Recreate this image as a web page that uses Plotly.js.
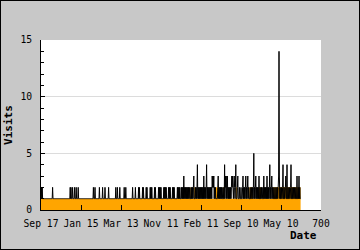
<!DOCTYPE html>
<html>
<head>
<meta charset="utf-8">
<script src="https://cdn.plot.ly/plotly-3.0.1.min.js"></script>
<style>
  html, body { margin: 0; padding: 0; background: #c8c8c8; }
  #wrap { position: relative; width: 360px; height: 250px; }
  #chart { width: 360px; height: 250px; }
  #frame { position: absolute; left: 0; top: 0; width: 360px; height: 250px; box-sizing: border-box; border: 1px solid #000; pointer-events: none; }
</style>
</head>
<body>
<div id="wrap"><div id="chart"></div><div id="frame"></div></div>
<script>
// Daily visits (black line), one value per day index
const visits = [
  1,2,1,2,1,1,1,1,1,1, 1,1,1,1,1,1,1,1,1,1, 1,1,1,1,1,1,1,1,1,2, 1,1,1,1,1,1,1,1,1,1, 1,1,1,1,1,1,1,1,1,1,
  1,1,1,1,1,1,1,1,1,1, 1,1,1,1,1,1,1,1,1,1, 1,1,1,2,1,2,1,1,1,2, 1,1,1,1,2,1,1,1,2,1, 1,1,1,2,1,1,1,1,1,1,
  1,1,1,1,1,1,1,1,1,1, 1,1,1,1,1,1,1,1,1,1, 1,1,1,1,1,1,1,1,1,1, 1,2,1,1,1,2,1,1,1,1, 1,1,1,1,1,1,2,1,1,1,
  1,1,1,1,2,1,1,1,1,1, 2,1,1,1,1,1,1,1,1,2, 1,1,1,1,1,1,1,1,1,1, 1,1,1,1,1,1,1,2,1,1, 1,2,1,1,1,1,1,2,1,1,
  1,1,1,1,1,1,1,1,2,1, 1,1,2,1,1,1,1,1,1,1, 1,1,1,1,1,1,1,1,1,2, 1,1,1,1,1,1,2,1,1,1, 1,1,1,1,2,1,2,1,1,1,
  1,1,1,1,2,1,2,1,1,1, 1,1,1,2,1,2,1,1,1,1, 1,1,1,2,1,2,1,2,1,1, 1,1,1,1,2,1,2,1,1,1, 1,1,1,1,2,1,2,1,2,1,
  2,1,1,1,1,1,1,2,1,2, 1,2,1,2,1,1,1,1,1,2, 1,2,1,2,1,1,1,1,1,2, 1,2,1,2,1,1,1,1,1,1, 1,2,1,2,1,2,1,2,1,1,
  1,2,1,2,1,2,1,3,1,2, 1,2,1,2,1,2,1,2,1,2, 1,2,1,1,1,2,1,2,1,2, 1,2,3,1,1,1,2,1,2,1, 2,4,1,2,1,2,1,2,1,2,
  1,2,1,2,1,2,1,3,1,2, 1,2,1,2,4,1,2,1,2,1, 2,1,2,1,2,1,2,1,3,2, 3,2,3,1,2,1,2,1,1,1, 1,1,2,3,1,2,1,2,1,2,
  1,2,1,2,1,1,1,2,1,4, 1,3,2,3,1,2,3,1,2,1, 2,1,2,1,2,1,2,3,2,3, 2,1,2,3,2,1,2,4,1,1, 1,2,3,1,1,1,2,1,1,1,
  2,1,1,1,2,3,1,2,1,2, 1,2,3,1,2,1,2,3,1,2, 1,1,1,2,1,1,2,1,1,2, 1,2,5,1,2,1,2,3,1,2, 1,2,1,2,1,3,1,1,2,1,
  1,2,1,2,1,1,1,3,1,2, 1,2,1,2,1,3,1,2,1,2, 1,2,4,1,2,1,2,3,1,2, 1,1,2,1,1,2,1,1,2,1, 1,2,1,2,3,14,3,1,2,1,
  1,2,1,1,2,4,1,1,2,1, 1,2,3,1,1,4,1,1,2,1, 1,2,1,1,2,4,1,1,2,1, 1,2,1,1,2,1,1,2,1,1, 3,1,1,2,1,3,1,2,1,1
];
const visitDays = visits.map((v, i) => i);

// Unique visitors (orange area), as step breakpoints: day where the level changes, and the level
const uniqueDays   = [0, 372, 374, 383, 385, 437, 442, 455, 457, 488, 490, 521, 529, 545, 550, 555, 557, 580, 649];
const uniqueLevels = [1, 2,   1,   2,   1,   2,   1,   2,   1,   2,   1,   2,   1,   2,   1,   2,   1,   2,   2];

// Axis ticks
const xTickVals = [0, 100, 200, 300, 400, 500, 600, 700];
const xTickText = ['Sep 17', 'Jan 15', 'Mar 13', 'Nov 11', 'Feb 11', 'Sep 10', 'May 10', '700'];
const yTickVals = [0, 5, 10, 15];

const mono = 'DejaVu Sans Mono, monospace';

const traces = [
  {
    x: uniqueDays, y: uniqueLevels, type: 'scatter', mode: 'lines',
    line: { shape: 'hv', width: 0, color: '#ffa500' },
    fill: 'tozeroy', fillcolor: '#ffa500', hoverinfo: 'skip'
  },
  {
    x: visitDays, y: visits, type: 'scatter', mode: 'lines',
    line: { color: '#000000', width: 1, simplify: false }, hoverinfo: 'skip'
  }
];

const layout = {
  width: 360, height: 250,
  paper_bgcolor: '#c8c8c8', plot_bgcolor: '#ffffff',
  margin: { l: 41, r: 39, t: 40, b: 40, pad: 0 },
  showlegend: false,
  xaxis: {
    range: [0, 700], tickmode: 'array', tickvals: xTickVals, ticktext: xTickText,
    ticks: 'inside', ticklen: 5, tickwidth: 1, tickcolor: '#000',
    showline: true, linecolor: '#000', linewidth: 1, showgrid: false, zeroline: false,
    tickfont: { family: mono, size: 9.7, color: '#000' }, ticklabelstandoff: 4,
    fixedrange: true
  },
  yaxis: {
    range: [0, 15], tickmode: 'array', tickvals: yTickVals,
    ticks: 'inside', ticklen: 4, tickwidth: 1, tickcolor: '#000',
    minor: { dtick: 1, ticks: 'inside', ticklen: 3, tickcolor: '#000', showgrid: false },
    showline: true, linecolor: '#000', linewidth: 1,
    showgrid: true, gridcolor: '#dcdcdc', gridwidth: 1, zeroline: false,
    tickfont: { family: mono, size: 9.7, color: '#000' }, ticklabelstandoff: 6,
    fixedrange: true
  },
  annotations: [
    { text: 'Visits', xref: 'paper', yref: 'paper', x: -0.118, y: 0.5, textangle: -90,
      showarrow: false, xanchor: 'center', yanchor: 'middle',
      font: { family: mono, size: 11, color: '#000', weight: 'bold' } },
    { text: 'Date', xref: 'paper', yref: 'paper', x: 0.993, y: -0.151,
      showarrow: false, xanchor: 'right', yanchor: 'middle',
      font: { family: mono, size: 11, color: '#000', weight: 'bold' } }
  ]
};

Plotly.newPlot('chart', traces, layout, { staticPlot: true, displayModeBar: false });
</script>
</body>
</html>
